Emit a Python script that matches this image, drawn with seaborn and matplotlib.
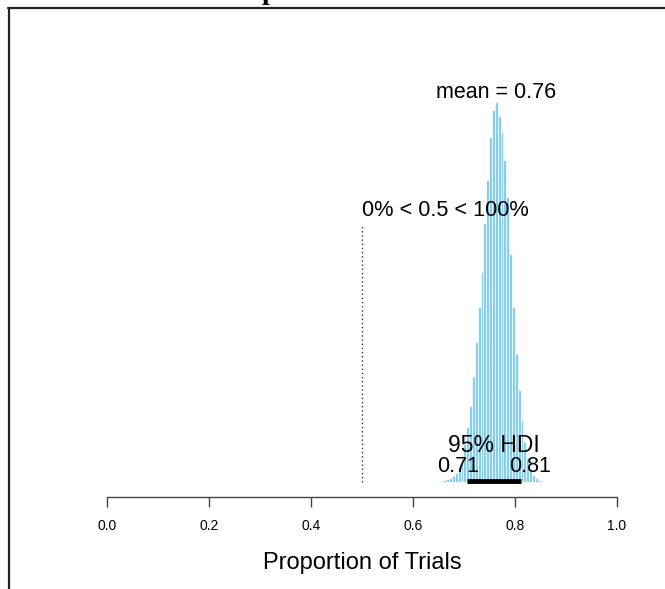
import numpy as np
import pandas as pd
import seaborn as sns
import matplotlib
matplotlib.use("Agg")
import matplotlib.pyplot as plt
from matplotlib.lines import Line2D

# ---- data ----
bin_centers = [0.6513, 0.6569, 0.6625, 0.6681, 0.6737, 0.6793, 0.6849, 0.6905,
               0.6961, 0.7017, 0.7073, 0.7129, 0.7185, 0.7241, 0.7297, 0.7353,
               0.7409, 0.7465, 0.7521, 0.7577, 0.7633, 0.7689, 0.7745, 0.7801,
               0.7857, 0.7913, 0.7969, 0.8025, 0.8081, 0.8137, 0.8193, 0.8249,
               0.8305, 0.8361, 0.8417, 0.8473, 0.8529]
bin_heights = [1, 1, 2, 3, 4, 6, 9, 15, 24, 38, 55, 76, 105, 140, 175, 210,
               259, 302, 345, 372, 380, 366, 350, 322, 285, 228, 175, 128, 92,
               62, 40, 24, 13, 7, 4, 2, 1]
bin_width = 0.0056
mean_value = 0.76
comp_value = 0.5
pct_below, pct_above = 0, 100
hdi_low, hdi_high = 0.706, 0.812
x_ticks = [0.0, 0.2, 0.4, 0.6, 0.8, 1.0]
x_tick_labels = ["0.0", "0.2", "0.4", "0.6", "0.8", "1.0"]
x_label = "Proportion of Trials"
title_fragment = "p"

sns.set_theme(style="white")
plt.rcParams["font.family"] = ["Liberation Sans", "DejaVu Sans"]

W, H = 665, 589
fig = plt.figure(figsize=(W / 100, H / 100), dpi=100)
# axes in pixel coords: left 107 (x=0) .. 617 (x=1); top 60 .. bottom 497
ax = fig.add_axes([107 / W, (H - 497) / H, 510 / W, (497 - 60) / H])

df = pd.DataFrame({"x": bin_centers, "h": bin_heights})
sns.histplot(data=df, x="x", weights="h", binwidth=bin_width,
             binrange=(bin_centers[0] - bin_width / 2, bin_centers[-1] + bin_width / 2),
             ax=ax, color="#87CEEB", edgecolor="white", linewidth=0.5, alpha=1.0)

ax.set_xlim(0, 1)
ax.set_ylim(-15, 422)

# comparison value dotted line
ax.plot([comp_value, comp_value], [0, 257], linestyle=(0, (1, 2)), color="#333333", lw=1)
ax.text(comp_value, 272, f"{pct_below}% < {comp_value} < {pct_above}%",
        ha="left", va="center", fontsize=15.7, color="black")

# mean label
ax.text(mean_value + 0.002, 389, f"mean = {mean_value}", ha="center", va="center",
        fontsize=15.5, color="black")

# HDI
ax.plot([hdi_low, hdi_high], [1, 1], color="black", lw=3.5, solid_capstyle="butt")
ax.text((hdi_low + hdi_high) / 2, 37, "95% HDI", ha="center", va="center",
        fontsize=16.5, color="black")
ax.text(hdi_low - 0.018, 16, f"{hdi_low:.2f}", ha="center", va="center",
        fontsize=15.5, color="black")
ax.text(hdi_high + 0.017, 16, f"{hdi_high:.2f}", ha="center", va="center",
        fontsize=15.5, color="black")

# axis styling
for s in ["left", "right", "top"]:
    ax.spines[s].set_visible(False)
ax.spines["bottom"].set_visible(True)
ax.spines["bottom"].set_bounds(0, 1)
ax.spines["bottom"].set_color("#444444")
ax.spines["bottom"].set_linewidth(1.0)
ax.set_yticks([])
ax.set_ylabel("")
ax.set_xticks(x_ticks)
ax.set_xticklabels(x_tick_labels, fontsize=10, color="black")
ax.tick_params(axis="x", bottom=True, direction="out", length=7.5, width=1.0,
               color="#444444", pad=8)
ax.set_xlabel(x_label, fontsize=17, color="black", labelpad=14)
ax.patch.set_alpha(0)

# outer frame fragments (top and left)
fig.add_artist(Line2D([8 / W, 1], [1 - 8 / H, 1 - 8 / H], transform=fig.transFigure,
                      color="#222222", lw=1.6))
fig.add_artist(Line2D([9 / W, 9 / W], [0, 1 - 8 / H], transform=fig.transFigure,
                      color="#222222", lw=1.6))
# cut-off title fragment (the reference shows only its lower edge)
fig.text(262 / W, 1 + 1 / H, title_fragment, ha="left", va="baseline",
         fontsize=20, fontweight="bold", family="Liberation Serif", color="black")

fig.savefig("out.png", dpi=100)
